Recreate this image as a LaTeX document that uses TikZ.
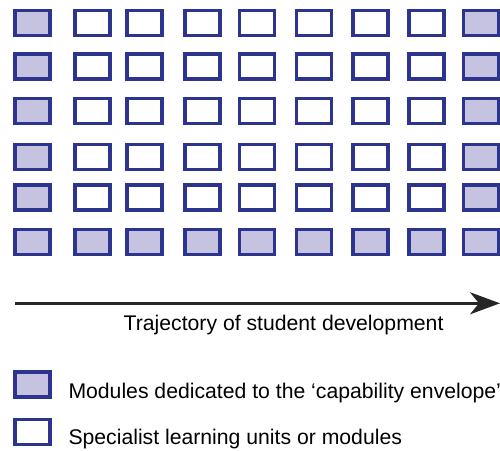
\documentclass[tikz,border=0pt]{standalone}
\usepackage{fontspec}
\setmainfont{Liberation Sans}
\usetikzlibrary{arrows.meta, positioning}

\definecolor{modline}{RGB}{44,52,143}
\definecolor{modfill}{RGB}{197,195,223}

\begin{document}
\begin{tikzpicture}[x=1pt, y=-1pt,
    module/.style={draw=modline, line width=3.2pt, minimum width=35pt, minimum height=25pt, inner sep=0pt},
    envelope/.style={module, fill=modfill},
    specialist/.style={module, fill=white},
    label/.style={font=\fontsize{21.2}{25}\selectfont, inner sep=0pt}]
        \useasboundingbox (0,0) rectangle (500,450);
        \clip (0,0) rectangle (500,450);

        % Define the grid of modules
        \foreach \c/\x in {1/32.5, 2/92.5, 3/144.5, 4/202.5, 5/256.7, 6/314.2, 7/370.5, 8/426.5, 9/481.3} {
            \foreach \r/\y in {1/23.3, 2/66.5, 3/110.8, 4/156.7, 5/197.5, 6/241.8} {
                \pgfmathsetmacro{\isenv}{(\c==1 || \c==9 || \r==6) ? 1 : 0}
                \ifnum\isenv=1
                    \node[envelope] (m-\r-\c) at (\x,\y) {};
                \else
                    \node[specialist] (m-\r-\c) at (\x,\y) {};
                \fi
            }
        }

        % Define the trajectory
        \coordinate (traj-start) at (15,303.3);
        \coordinate (traj-end) at (500,303.3);
        \draw[line width=3.2pt, draw=black!85, -{Stealth[length=30pt, width=22pt, inset=9pt]}] (traj-start) -- (traj-end);
        \node[label, anchor=base west] (traj) at (123.5,330) {Trajectory of student development};

        % Define the legend
        \node[envelope] (key-env) at (32.5,384.5) {};
        \node[specialist] (key-spec) at (32.5,432.2) {};
        \node[label, anchor=base west] (key-env-text) at (68.3,398.3) {Modules dedicated to the ‘capability envelope’};
        \node[label, anchor=base west] (key-spec-text) at (68.3,444.3) {Specialist learning units or modules};
    \end{tikzpicture}
\end{document}
